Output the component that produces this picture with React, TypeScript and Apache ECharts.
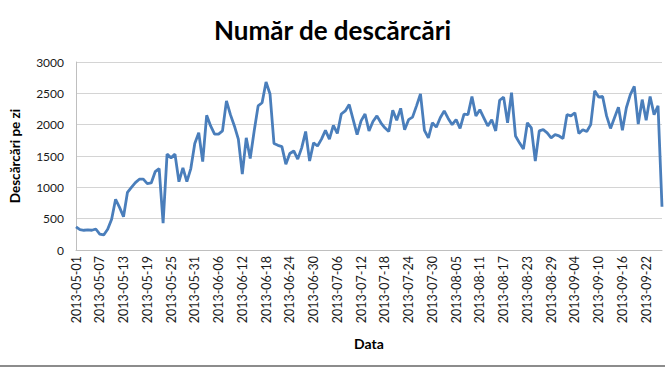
import React, { useEffect, useRef } from "react";
import * as echarts from "echarts";

const TITLE = "Număr de descărcări";
const Y_NAME = "Descărcări pe zi";
const X_NAME = "Data";
const START_DATE = "2013-05-01";
const Y_TICKS = [0, 500, 1000, 1500, 2000, 2500, 3000];

const downloads = [
  370, 325, 315, 320, 315, 335, 255, 240, 330, 490,
  810, 680, 530, 920, 1000, 1075, 1130, 1130, 1060, 1070,
  1250, 1300, 430, 1530, 1470, 1530, 1090, 1310, 1090, 1300,
  1700, 1870, 1410, 2150, 1980, 1850, 1850, 1900, 2380, 2160,
  1980, 1770, 1210, 1790, 1460, 1900, 2300, 2350, 2680, 2490,
  1700, 1670, 1650, 1370, 1540, 1580, 1450, 1630, 1890, 1420,
  1710, 1660, 1770, 1910, 1770, 1990, 1860, 2170, 2220, 2320,
  2080, 1840, 2060, 2170, 1900, 2050, 2140, 2030, 1950, 1890,
  2230, 2070, 2260, 1920, 2080, 2120, 2300, 2490, 1910, 1790,
  2030, 1960, 2110, 2220, 2100, 2000, 2080, 1940, 2170, 2160,
  2450, 2140, 2240, 2110, 1980, 2080, 1900, 2390, 2440, 2030,
  2510, 1820, 1710, 1610, 2030, 1950, 1420, 1900, 1920, 1870,
  1790, 1840, 1820, 1780, 2160, 2140, 2190, 1860, 1920, 1890,
  2000, 2540, 2440, 2450, 2140, 1940, 2110, 2280, 1910, 2270,
  2480, 2610, 2010, 2400, 2070, 2450, 2160, 2300, 690,
];

function buildDates(start: string, n: number): string[] {
  const out: string[] = [];
  const d = new Date(start + "T00:00:00Z");
  for (let i = 0; i < n; i++) {
    out.push(d.toISOString().slice(0, 10));
    d.setUTCDate(d.getUTCDate() + 1);
  }
  return out;
}

const dates = buildDates(START_DATE, downloads.length);

const FONT = "Lato, 'Open Sans', sans-serif";

export default function App() {
  const ref = useRef<HTMLDivElement>(null);
  useEffect(() => {
    if (!ref.current) return;
    const chart = echarts.init(ref.current, null, { renderer: "svg" });
    chart.setOption({
      animation: false,
      backgroundColor: "#ffffff",
      textStyle: { fontFamily: FONT },
      title: {
        text: TITLE,
        left: "center",
        top: 12,
        textStyle: { fontFamily: FONT, fontSize: 26, fontWeight: "bold", color: "#000" },
      },
      grid: { left: 75, right: 3, top: 62, bottom: 120, containLabel: false },
      xAxis: {
        type: "category",
        data: dates,
        boundaryGap: false,
        name: X_NAME,
        nameLocation: "middle",
        nameGap: 86,
        nameTextStyle: { fontFamily: FONT, fontSize: 14, fontWeight: "bold", color: "#000" },
        axisLine: { lineStyle: { color: "#bfbfbf", width: 1 } },
        axisTick: { show: false },
        axisLabel: {
          interval: 5,
          rotate: 90,
          fontFamily: FONT,
          fontSize: 12.5,
          color: "#1a1a1a",
          margin: 6,
        },
        splitLine: { show: false },
      },
      yAxis: {
        type: "value",
        min: Y_TICKS[0],
        max: Y_TICKS[Y_TICKS.length - 1],
        interval: Y_TICKS[1] - Y_TICKS[0],
        name: Y_NAME,
        nameLocation: "middle",
        nameGap: 54,
        nameTextStyle: { fontFamily: FONT, fontSize: 13.5, fontWeight: "bold", color: "#000" },
        axisLine: { show: true, lineStyle: { color: "#bfbfbf", width: 1 } },
        axisTick: { show: false },
        axisLabel: {
          fontFamily: FONT,
          fontSize: 12,
          color: "#1a1a1a",
          margin: 12,
          formatter: (v: number) => String(v),
        },
        splitLine: { lineStyle: { color: "#d4d4d4", width: 1 } },
      },
      graphic: [
        {
          type: "line",
          shape: { x1: 0, y1: 366, x2: 665, y2: 366 },
          style: { stroke: "#8c8c8c", lineWidth: 2 },
        },
      ],
      series: [
        {
          type: "line",
          data: downloads,
          showSymbol: false,
          symbol: "none",
          lineStyle: { color: "#4a7ebb", width: 2.8 },
          itemStyle: { color: "#4a7ebb" },
        },
      ],
    });
    return () => chart.dispose();
  }, []);
  return (
    <div
      ref={ref}
      style={{ position: "fixed", left: 0, top: 0, width: 665, height: 370 }}
    />
  );
}
